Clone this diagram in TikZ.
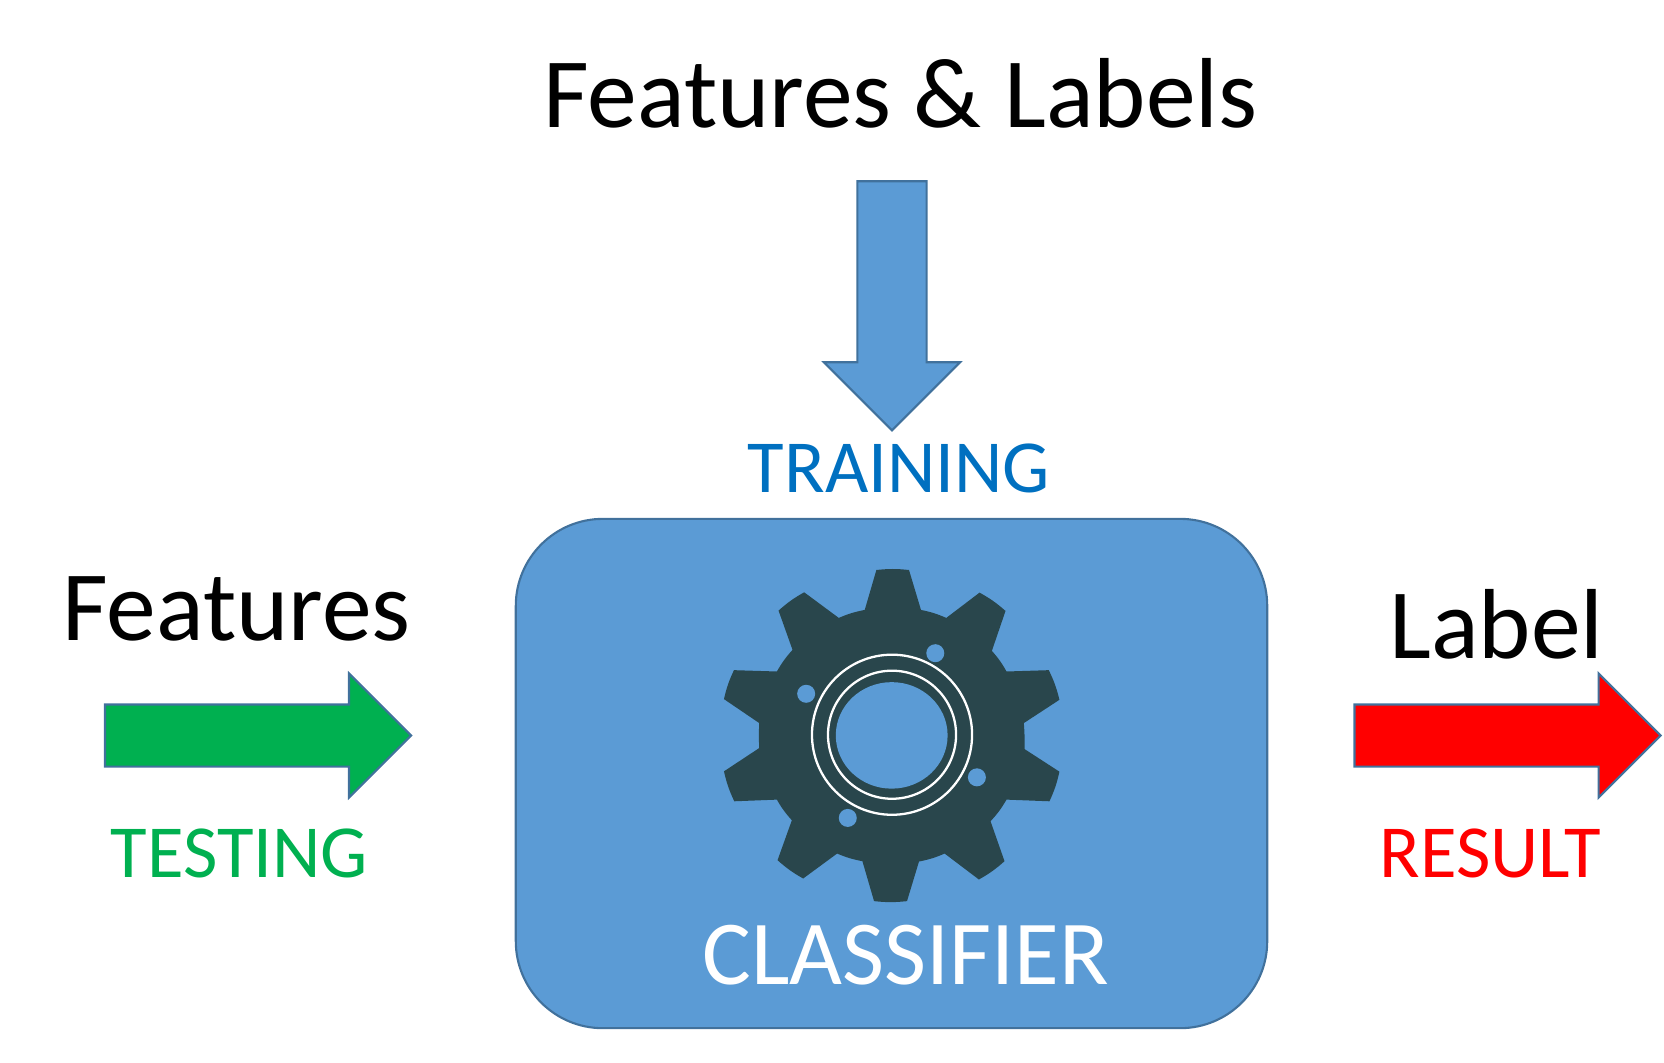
\documentclass[tikz,border=0pt]{standalone}
\usepackage{fontspec}
\setmainfont{Carlito}
\usepackage{xcolor}
\usepackage{tikz}
\usetikzlibrary{shapes.arrows}
\definecolor{boxblue}{HTML}{5B9BD5}
\definecolor{edgeblue}{HTML}{41719C}
\definecolor{gearcolor}{HTML}{29464C}
\definecolor{trainblue}{HTML}{0070C0}
\definecolor{testgreen}{HTML}{00B050}
\definecolor{resultred}{HTML}{FF0000}

\begin{document}
\begin{tikzpicture}[
  x=0.01cm, y=-0.01cm,
  blockarrow/.style={single arrow, draw=edgeblue, line width=0.6pt,
    single arrow tip angle=90, inner xsep=0pt, inner ysep=0.30cm,
    single arrow head extend=0.31cm, anchor=center},
  bigtext/.style={anchor=base, inner sep=0pt, font=\fontsize{28.3}{34}\selectfont},
  smalltext/.style={anchor=base, inner sep=0pt, font=\fontsize{21.3}{26}\selectfont},
  hole/.style={circle, fill=boxblue, inner sep=0pt, minimum size=0.18cm},
  ring/.style={circle, draw=white, line width=0.65pt, inner sep=0pt},
]
\useasboundingbox (0,0) rectangle (1664,1062);

% Nodes
\node[draw=edgeblue, fill=boxblue, line width=0.6pt, rounded corners=0.87cm,
  minimum width=7.51cm, minimum height=5.09cm, inner sep=0pt] (classifier) at (891.5,773.5) {};
\node[blockarrow, fill=boxblue, rotate=-90, inner ysep=0.335cm, single arrow head extend=0.335cm,
  minimum height=2.49cm] (trainarrow) at (892,288.5) {};
\node[blockarrow, fill=testgreen, minimum height=3.06cm] (testarrow) at (242.5,735.5) {};
\node[blockarrow, fill=resultred, minimum height=3.06cm] (resultarrow) at (1492,735.5) {};

% Gear
\begin{scope}[shift={(700,550)}, x=0.003333cm, y=-0.003333cm]
\fill[gearcolor] (495,180) -- (530,60) to[bend left=6] (628,60) -- (664,180)
  to[bend left=6] (740,204) -- (840,128) to[bend left=6] (918,183) -- (877,303)
  to[bend left=6] (921,365) -- (1048,361) to[bend left=6] (1080,450) -- (973,520)
  to[bend left=3] (975,598) -- (1080,666) to[bend left=6] (1050,755) -- (921,750)
  to[bend left=6] (873,815) -- (915,935) to[bend left=6] (838,990) -- (735,912)
  to[bend left=6] (658,936) -- (622,1055) to[bend left=6] (523,1055) -- (488,935)
  to[bend left=6] (412,912) -- (310,987) to[bend left=6] (233,932) -- (276,812)
  to[bend left=6] (231,750) -- (103,755) to[bend left=6] (72,665) -- (178,595)
  to[bend left=3] (178,520) -- (72,448) to[bend left=6] (102,361) -- (231,365)
  to[bend left=6] (278,300) -- (236,182) to[bend left=6] (313,127) -- (417,204)
  to[bend left=6] cycle;
\foreach \hx/\hy in {707/310, 319/432, 832/683, 444/805}
  \node[hole] at (\hx,\hy) {};
\fill[boxblue] (576,557) ellipse [x radius=168, y radius=160];
\node[ring, minimum size=1.6cm] (outerring) at (577,555) {};
\node[ring, minimum size=1.28cm] (innerring) at (577,555) {};
\end{scope}

% Labels
\node[bigtext] (fltext) at (900.5,127) {Features \& Labels};
\node[smalltext, text=trainblue] (traintext) at (899,492) {TRAINING};
\node[bigtext, font=\fontsize{26}{32}\selectfont, text=white] (classtext) at (906,984) {CLASSIFIER};
\node[bigtext] (ftext) at (236.5,640) {Features};
\node[bigtext] (ltext) at (1496.5,658) {Label};
\node[smalltext, text=testgreen] (testtext) at (239.5,877) {TESTING};
\node[smalltext, text=resultred] (restext) at (1490.5,877) {RESULT};
\end{tikzpicture}
\end{document}
